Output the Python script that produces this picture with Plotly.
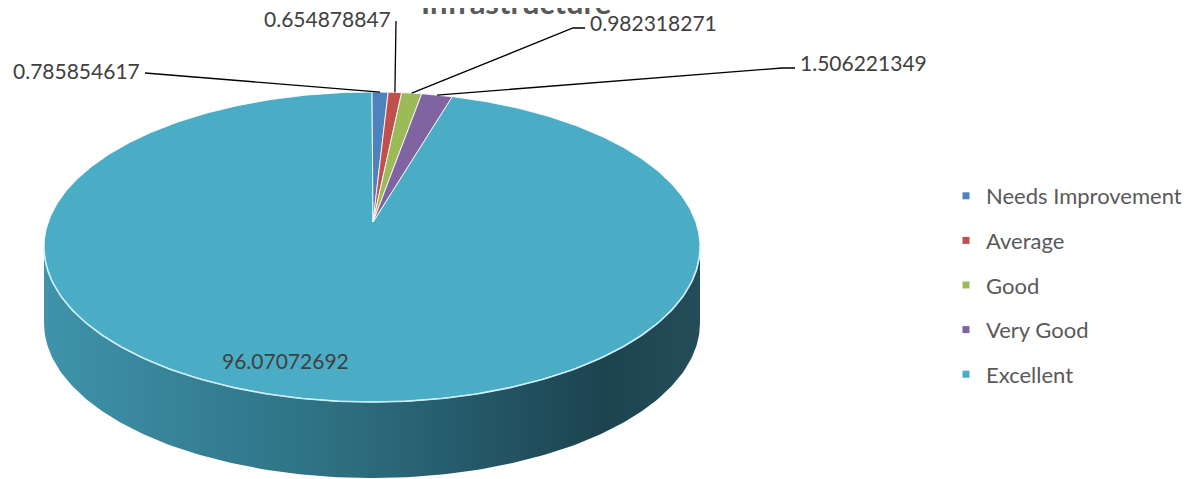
import numpy as np
import plotly.graph_objects as go

# data
categories = ['Needs Improvement', 'Average', 'Good', 'Very Good', 'Excellent']
values = [0.785854617, 0.654878847, 0.982318271, 1.506221349, 96.07072692]
colors = ['#4F81BD', '#C0504D', '#9BBB59', '#8064A2', '#4BACC6']

W, H = 1197, 479
OFF = 8  # the page body has an 8px margin, so shift the pixel axes by that
cx, cy, rx, ry, depth = 372, 247, 328, 155, 76   # ellipse geometry (page pixels)
apex = (373, 222)                                # where the slices meet
label_pos = [(142, 70, 'right'), (393, 18, 'right'), (588, 22, 'left'),
             (798, 62, 'left'), (285, 360, 'center')]
elbows = [None, None, (573, 28), (782, 68), None]

def edge(theta, dy=0):
    return cx + rx * np.sin(theta), cy - ry * np.cos(theta) + dy

fig = go.Figure()

# side wall of the 3d pie
t = np.linspace(np.pi / 2, 3 * np.pi / 2, 200)
xt, yt = edge(t)
xb, yb = edge(t[::-1], depth)
fig.add_trace(go.Scatter(
    x=np.r_[xt, xb], y=np.r_[yt, yb], fill='toself', mode='lines',
    line=dict(width=0), showlegend=False, hoverinfo='skip',
    fillgradient=dict(type='horizontal',
                      colorscale=[[0, '#3f93aa'], [0.45, '#2d6f81'],
                                  [0.85, '#1d4350'], [1, '#244c59']])))

# slices on top, drawn from the values
frac = np.array(values) / sum(values)
ends = np.cumsum(frac) * 2 * np.pi
starts = ends - frac * 2 * np.pi
order = [4, 0, 1, 2, 3]
for i in order:
    th = np.linspace(starts[i], ends[i], max(4, int(frac[i] * 600)))
    ex, ey = edge(th)
    fig.add_trace(go.Scatter(
        x=np.r_[apex[0], ex, apex[0]], y=np.r_[apex[1], ey, apex[1]],
        fill='toself', fillcolor=colors[i], mode='lines',
        line=dict(color='rgba(255,255,255,0.85)', width=1),
        showlegend=False, name=categories[i], hoverinfo='name'))

# light rim along the front edge
rx_, ry_ = edge(t)
fig.add_trace(go.Scatter(x=rx_, y=ry_, mode='lines', showlegend=False,
                         line=dict(color='#cdeef6', width=1.6), hoverinfo='skip'))

# legend entries
for i, name in enumerate(categories):
    fig.add_trace(go.Scatter(x=[None], y=[None], mode='markers', name=name,
                             legendgroup=name,
                             marker=dict(symbol='square', size=7, color=colors[i])))

# data labels with leader lines
for i, v in enumerate(values):
    lx, ly, side = label_pos[i]
    txt = f'{v:.10g}'
    if i < 4:
        mid = (starts[i] + ends[i]) / 2
        ax, ay = edge(mid)
        pts = [(ax, ay)]
        if elbows[i]:
            pts.append(elbows[i])
        tip_x = lx + 3 if side == 'right' else lx - 3
        pts.append((tip_x, pts[-1][1] if elbows[i] else ly + 3))
        fig.add_trace(go.Scatter(x=[p[0] for p in pts], y=[p[1] for p in pts],
                                 mode='lines', line=dict(color='black', width=1.3),
                                 showlegend=False, hoverinfo='skip'))
    fig.add_annotation(x=lx, y=ly, xref='x', yref='y', text=txt, showarrow=False,
                       xanchor=side, yanchor='middle',
                       font=dict(family='Lato', size=21, color='#404040'))

# title sits partly above the top edge, as in the original
fig.add_annotation(x=(516 - OFF) / W, y=1 - (2 - OFF) / H, xref='paper', yref='paper',
                   text='<b>Infrastructure</b>', showarrow=False,
                   xanchor='center', yanchor='middle',
                   font=dict(family='Lato', size=31, color='#595959'))

fig.update_layout(
    width=W, height=H, margin=dict(l=0, r=0, t=0, b=0),
    paper_bgcolor='white', plot_bgcolor='white',
    xaxis=dict(range=[OFF, W + OFF], visible=False, fixedrange=True),
    yaxis=dict(range=[H + OFF, OFF], visible=False, fixedrange=True),
    legend=dict(x=(946 - OFF) / W, y=1 - (175 - OFF) / H, xanchor='left', yanchor='top',
                tracegroupgap=13, itemwidth=30,
                font=dict(family='Lato', size=22, color='#595959')),
    font=dict(family='Lato'),
)

fig.write_html('out.html')
